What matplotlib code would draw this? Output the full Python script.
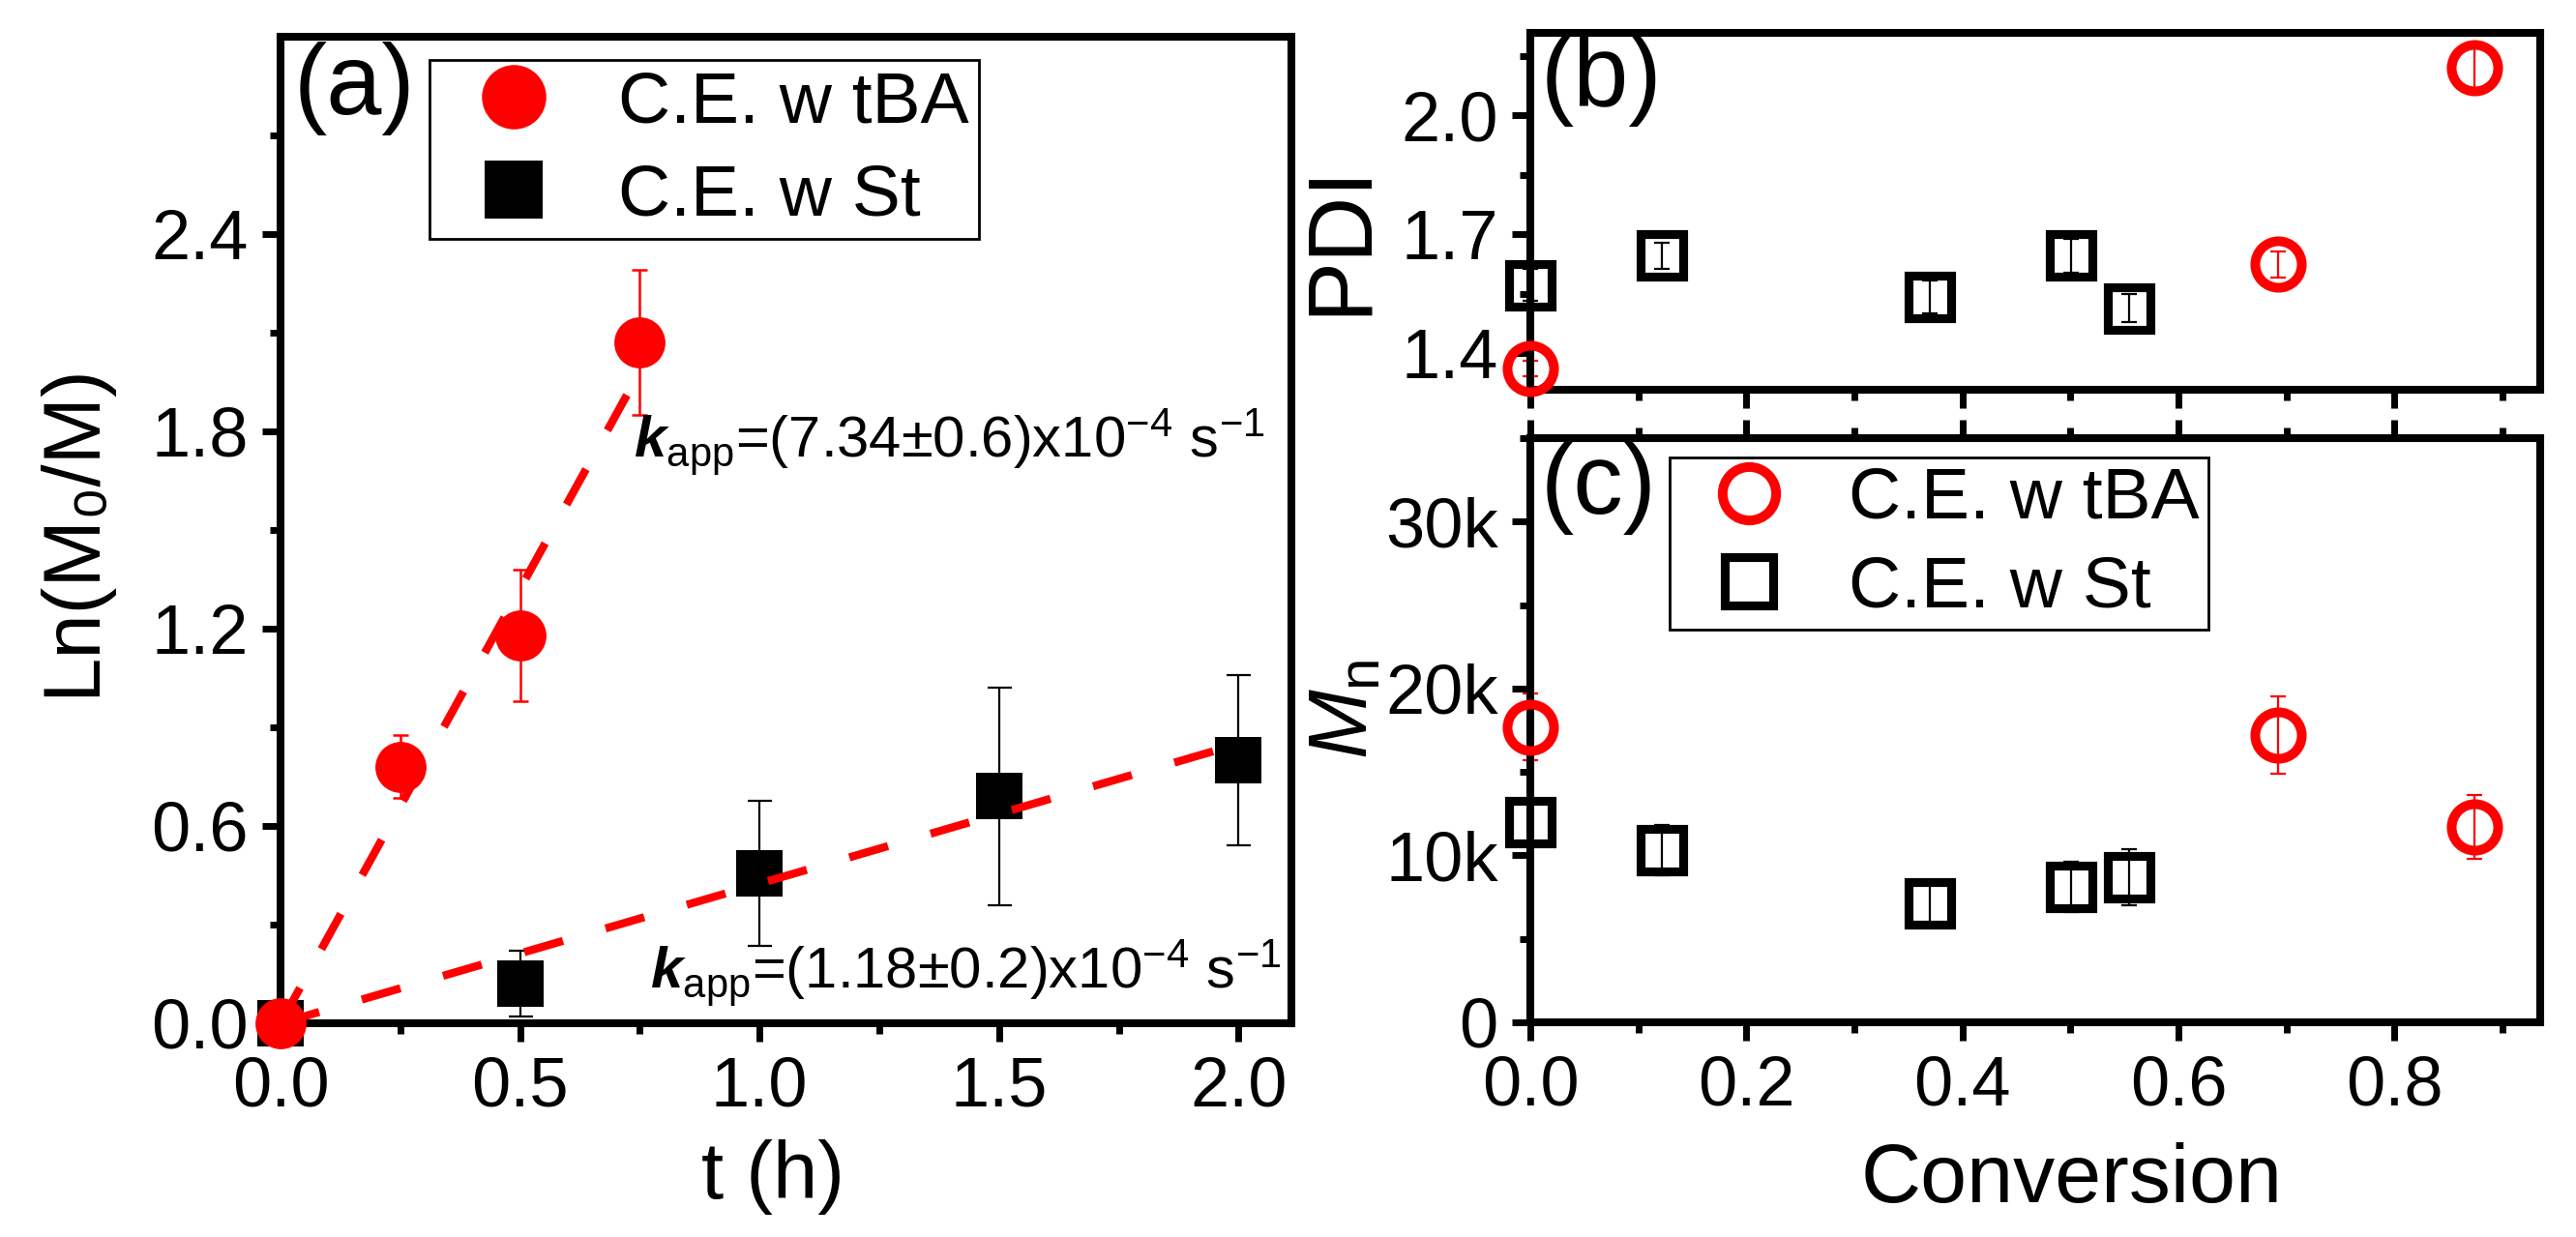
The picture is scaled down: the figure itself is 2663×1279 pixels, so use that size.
import matplotlib
matplotlib.use("Agg")
import matplotlib.pyplot as plt
from matplotlib.ticker import MultipleLocator, FixedLocator, FuncFormatter

plt.rcParams["font.family"] = ["Liberation Sans", "DejaVu Sans"]
plt.rcParams["mathtext.fontset"] = "custom"
plt.rcParams["mathtext.rm"] = "Liberation Sans"
plt.rcParams["mathtext.it"] = "Liberation Sans:italic"
plt.rcParams["mathtext.bf"] = "Liberation Sans:bold"
plt.rcParams["mathtext.bfit"] = "Liberation Sans:italic:bold"

# (a) kinetics, Ln(M0/M) vs t
t_tba = [0.0, 0.25, 0.5, 0.75]
ln_tba = [0.0, 0.78, 1.18, 2.07]
ln_tba_err = [0.0, 0.095, 0.20, 0.22]
t_st = [0.0, 0.5, 1.0, 1.5, 2.0]
ln_st = [0.0, 0.12, 0.455, 0.69, 0.80]
ln_st_err = [0.0, 0.10, 0.22, 0.33, 0.26]
k_tba = 7.34e-4 * 3600  # s^-1 -> h^-1
k_st = 1.18e-4 * 3600
fit_t_tba = [0.0, 0.75]
fit_t_st = [0.0, 2.0]

# (b) PDI vs conversion
conv_tba = [0.0, 0.692, 0.874]
pdi_tba = [1.362, 1.625, 2.121]
pdi_tba_err = [0.02, 0.033, 0.054]
conv_st = [0.0, 0.122, 0.370, 0.501, 0.554]
pdi_st = [1.572, 1.646, 1.542, 1.646, 1.514]
pdi_st_err = [0.04, 0.033, 0.042, 0.042, 0.035]

# (c) Mn vs conversion
mn_tba = [17700, 17200, 11700]
mn_tba_err = [2000, 2300, 1900]
mn_st = [12000, 10300, 7100, 8100, 8700]
mn_st_err = [1200, 1500, 1400, 1500, 1700]

RED = "#ff0000"
fig = plt.figure(figsize=(13.315, 6.395), dpi=200)
ax_a = fig.add_axes([0.1089, 0.1728, 0.3924, 0.7975])
ax_b = fig.add_axes([0.5941, 0.6849, 0.3920, 0.2885])
ax_c = fig.add_axes([0.5941, 0.1736, 0.3920, 0.4722])

for ax in (ax_a, ax_b, ax_c):
    for s in ax.spines.values():
        s.set_linewidth(2.9)
    ax.tick_params(which="both", direction="out", width=2.5, labelsize=26, pad=5)
    ax.tick_params(which="major", length=7)
    ax.tick_params(which="minor", length=4)

# ---- (a)
ax_a.errorbar(t_tba, ln_tba, yerr=ln_tba_err, fmt="none", ecolor=RED,
              elinewidth=0.9, capsize=3, capthick=0.9, zorder=2, clip_on=False)
ax_a.errorbar(t_st, ln_st, yerr=ln_st_err, fmt="none", ecolor="black",
              elinewidth=0.8, capsize=4.5, capthick=0.8, zorder=2, clip_on=False)
ax_a.plot(t_st, ln_st, "s", color="black", ms=17, mew=0, label="C.E. w St",
          zorder=3, clip_on=False)
ax_a.plot(t_tba, ln_tba, "o", color=RED, ms=19, mew=0, label="C.E. w tBA",
          zorder=3.5, clip_on=False)
ax_a.plot(fit_t_tba, [k_tba * t for t in fit_t_tba], color=RED, lw=3,
          ls=(0, (5, 5.5)), dash_capstyle="butt", zorder=4)
ax_a.plot(fit_t_st, [k_st * t for t in fit_t_st], color=RED, lw=3,
          ls=(0, (5, 5.5)), dash_capstyle="butt", zorder=4)

ax_a.set_xlim(0, 2.11)
ax_a.set_ylim(0, 3.0)
ax_a.xaxis.set_major_locator(MultipleLocator(0.5))
ax_a.xaxis.set_minor_locator(MultipleLocator(0.25))
ax_a.yaxis.set_major_locator(FixedLocator([0.0, 0.6, 1.2, 1.8, 2.4]))
ax_a.yaxis.set_minor_locator(FixedLocator([0.3, 0.9, 1.5, 2.1, 2.7]))
ax_a.xaxis.set_major_formatter(FuncFormatter(lambda v, p: f"{v:.1f}"))
ax_a.yaxis.set_major_formatter(FuncFormatter(lambda v, p: f"{v:.1f}"))
ax_a.set_xlabel("t (h)", fontsize=30, va="center")
ax_a.xaxis.set_label_coords(0.487, -0.156)
ax_a.set_ylabel("Ln(M\u2080/M)", fontsize=30, va="center")
ax_a.yaxis.set_label_coords(-0.206, 0.5)
ax_a.text(0.013, 0.995, "(a)", transform=ax_a.transAxes, fontsize=37,
          ha="left", va="top")

handles, labels = ax_a.get_legend_handles_labels()
leg = ax_a.legend(handles[::-1], labels[::-1], loc="upper left",
                  bbox_to_anchor=(0.147, 0.976), borderaxespad=0, fontsize=27,
                  frameon=True, fancybox=False, framealpha=1, edgecolor="black",
                  markerscale=1.26, numpoints=1, borderpad=0.13,
                  labelspacing=0.36, handlelength=2.08, handletextpad=0.4)
leg.get_frame().set_linewidth(1.0)

ax_a.text(0.738, 1.72, r"$\mathbfit{k}_{\mathrm{app}}$=(7.34$\pm$0.6)x10$^{-4}$ s$^{-1}$",
          fontsize=21.5, ha="left", va="baseline")
ax_a.text(0.772, 0.106, r"$\mathbfit{k}_{\mathrm{app}}$=(1.18$\pm$0.2)x10$^{-4}$ s$^{-1}$",
          fontsize=21.5, ha="left", va="baseline")

# ---- (b)
ax_b.errorbar(conv_st, pdi_st, yerr=pdi_st_err, fmt="none", ecolor="black",
              elinewidth=0.8, capsize=3, capthick=0.8, zorder=2, clip_on=False)
ax_b.errorbar(conv_tba, pdi_tba, yerr=pdi_tba_err, fmt="none", ecolor=RED,
              elinewidth=0.8, capsize=3, capthick=0.8, zorder=2, clip_on=False)
ax_b.plot(conv_st, pdi_st, "s", mfc="none", mec="black", ms=15.5, mew=3.3,
          zorder=3, clip_on=False)
ax_b.plot(conv_tba, pdi_tba, "o", mfc="none", mec=RED, ms=17.3, mew=3.6,
          zorder=3, clip_on=False)
ax_b.set_xlim(0, 0.935)
ax_b.set_ylim(1.308, 2.208)
ax_b.xaxis.set_major_locator(MultipleLocator(0.2))
ax_b.xaxis.set_minor_locator(MultipleLocator(0.1))
ax_b.yaxis.set_major_locator(FixedLocator([1.4, 1.7, 2.0]))
ax_b.yaxis.set_minor_locator(FixedLocator([1.55, 1.85, 2.15]))
ax_b.yaxis.set_major_formatter(FuncFormatter(lambda v, p: f"{v:.1f}"))
ax_b.tick_params(axis="x", which="both", labelbottom=False)
ax_b.set_ylabel("PDI", fontsize=34, va="center")
ax_b.yaxis.set_label_coords(-0.188, 0.423)
ax_b.text(0.0105, 1.0, "(b)", transform=ax_b.transAxes, fontsize=37,
          ha="left", va="top")

# ---- (c)
ax_c.errorbar(conv_st, mn_st, yerr=mn_st_err, fmt="none", ecolor="black",
              elinewidth=0.8, capsize=3, capthick=0.8, zorder=2, clip_on=False)
ax_c.errorbar(conv_tba, mn_tba, yerr=mn_tba_err, fmt="none", ecolor=RED,
              elinewidth=0.8, capsize=3, capthick=0.8, zorder=2, clip_on=False)
ax_c.plot(conv_tba, mn_tba, "o", mfc="none", mec=RED, ms=17.3, mew=3.6,
          label="C.E. w tBA", zorder=3, clip_on=False)
ax_c.plot(conv_st, mn_st, "s", mfc="none", mec="black", ms=15.5, mew=3.3,
          label="C.E. w St", zorder=3, clip_on=False)
ax_c.set_xlim(0, 0.935)
ax_c.set_ylim(0, 35000)
ax_c.xaxis.set_major_locator(MultipleLocator(0.2))
ax_c.xaxis.set_minor_locator(MultipleLocator(0.1))
ax_c.yaxis.set_major_locator(MultipleLocator(10000))
ax_c.yaxis.set_minor_locator(MultipleLocator(5000))
ax_c.xaxis.set_major_formatter(FuncFormatter(lambda v, p: f"{v:.1f}"))
ax_c.yaxis.set_major_formatter(FuncFormatter(lambda v, p: "0" if v == 0 else f"{v / 1000:.0f}k"))
ax_c.tick_params(axis="x", which="both", top=True, labeltop=False)
ax_c.set_xlabel("Conversion", fontsize=31, va="center")
ax_c.xaxis.set_label_coords(0.536, -0.272)
ax_c.set_ylabel(r"$\mathit{M}_{\mathrm{n}}$", fontsize=31, va="center")
ax_c.yaxis.set_label_coords(-0.183, 0.536)
ax_c.text(0.0105, 0.995, "(c)", transform=ax_c.transAxes, fontsize=37,
          ha="left", va="top")
leg_c = ax_c.legend(loc="upper left", bbox_to_anchor=(0.138, 0.967),
                    borderaxespad=0, fontsize=27, frameon=True, fancybox=False,
                    framealpha=1, edgecolor="black", markerscale=1.15,
                    numpoints=1, borderpad=0.12, labelspacing=0.3,
                    handlelength=1.95, handletextpad=0.4)
leg_c.get_frame().set_linewidth(1.0)

fig.savefig("out.png", dpi=200)
